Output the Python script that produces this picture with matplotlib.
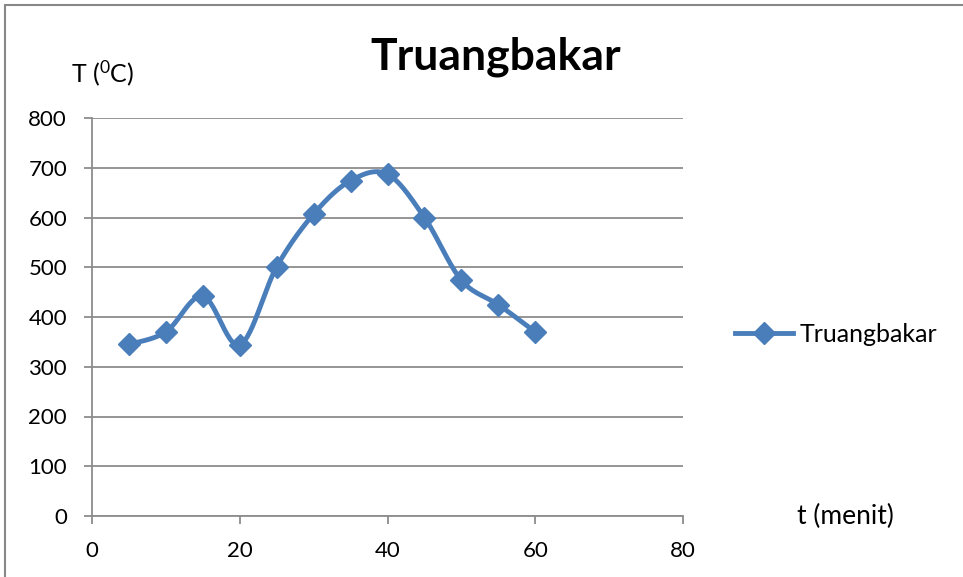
import numpy as np
import matplotlib.pyplot as plt
from matplotlib.patches import Rectangle

# readings: time (menit) vs temperature (C)
waktu = [5, 10, 15, 20, 25, 30, 35, 40, 45, 50, 55, 60]
suhu = [345, 370, 442, 344, 501, 607, 674, 687, 600, 474, 425, 370]
x_ticks = [0, 20, 40, 60, 80]
y_ticks = [0, 100, 200, 300, 400, 500, 600, 700, 800]

BLUE = '#4A7EBB'
GRID = '#8C8C8C'

plt.rcParams['font.family'] = ['Lato', 'DejaVu Sans']
plt.rcParams['mathtext.default'] = 'regular'


def smooth(x, y, n=30):
    # Bezier smoothing through every point (Excel-style smoothed line)
    x = np.asarray(x, float)
    y = np.asarray(y, float)
    px = np.concatenate([[x[0]], x, [x[-1]]])
    py = np.concatenate([[y[0]], y, [y[-1]]])
    xs, ys = [], []
    t = np.linspace(0, 1, n)
    for i in range(1, len(px) - 2):
        p0 = np.array([px[i], py[i]])
        p3 = np.array([px[i + 1], py[i + 1]])
        p1 = p0 + (np.array([px[i + 1], py[i + 1]]) - np.array([px[i - 1], py[i - 1]])) / 6
        p2 = p3 - (np.array([px[i + 2], py[i + 2]]) - np.array([px[i], py[i]])) / 6
        b = ((1 - t) ** 3)[:, None] * p0 + (3 * (1 - t) ** 2 * t)[:, None] * p1 \
            + (3 * (1 - t) * t ** 2)[:, None] * p2 + (t ** 3)[:, None] * p3
        xs.extend(b[:, 0])
        ys.extend(b[:, 1])
    return np.array(xs), np.array(ys)


fig = plt.figure(figsize=(9.63, 5.77), dpi=100)
ax = fig.add_axes([92 / 963, 1 - 516 / 577, (683 - 92) / 963, (516 - 118) / 577])

sx, sy = smooth(waktu, suhu)
ax.plot(sx, sy, color=BLUE, lw=3.5, solid_capstyle='round', zorder=3)
ax.plot(waktu, suhu, 'D', color=BLUE, ms=11, zorder=4)
ax.plot([], [], color=BLUE, lw=3.5, marker='D', ms=11, label='Truangbakar')

ax.set_xlim(0, 80)
ax.set_ylim(0, 800)
ax.set_xticks(x_ticks)
ax.set_yticks(y_ticks)
ax.yaxis.grid(True, color=GRID, lw=1.3)
ax.set_axisbelow(True)
for s in ['top', 'right']:
    ax.spines[s].set_visible(False)
for s in ['left', 'bottom']:
    ax.spines[s].set_color(GRID)
    ax.spines[s].set_linewidth(1.3)
ax.tick_params(axis='both', direction='out', length=6, width=1.3, color=GRID,
               labelsize=16)
ax.tick_params(axis='x', pad=12)
ax.tick_params(axis='y', pad=12)

fig.text(496 / 963, 1 - 57 / 577, 'Truangbakar', fontsize=32, fontweight='bold',
         ha='center', va='center')
fig.text(103 / 963, 1 - 73 / 577, r'T ($^{0}$C)', fontsize=18, ha='center', va='center')
fig.text(845 / 963, 1 - 516 / 577, 't (menit)', fontsize=19, ha='center', va='center')

fig.legend(loc='center left', bbox_to_anchor=(735 / 963, 1 - 334 / 577), frameon=False,
           fontsize=18, handlelength=2.3, handletextpad=0.3,
           borderaxespad=0, borderpad=0)

fig.patches.append(Rectangle((5 / 963, -0.01), 1.0, 1 - 5 / 577 + 0.01,
                             transform=fig.transFigure, fill=False,
                             edgecolor='#888888', lw=1.5))

fig.savefig('out.png', dpi=100)
